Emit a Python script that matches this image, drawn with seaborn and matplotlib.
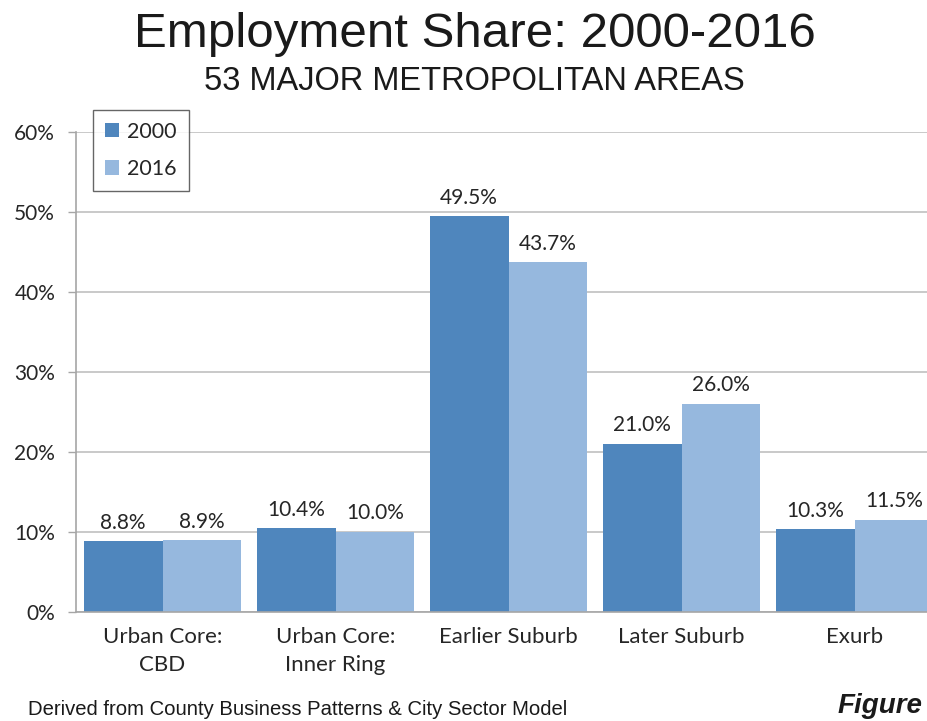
#Importations
import pandas as pd
import numpy as np
import seaborn as sns
import matplotlib.pyplot as plt

#Data
sectors = ['Urban Core:\nCBD', 'Urban Core:\nInner Ring', 'Earlier Suburb', 'Later Suburb', 'Exurb']
years = ['2000', '2016']
share_2000 = [8.8, 10.4, 49.5, 21.0, 10.3]
share_2016 = [8.9, 10.0, 43.7, 26.0, 11.5]
y_ticks = [0, 10, 20, 30, 40, 50, 60]
y_tick_labels = ['0%', '10%', '20%', '30%', '40%', '50%', '60%']

#Fonts
body = 'Lato'
head = 'Liberation Sans'

sns.set_style('white')
plt.rcParams['font.family'] = [body, 'DejaVu Sans']

df = pd.DataFrame({
    'sector': sectors * 2,
    'year': [years[0]] * len(sectors) + [years[1]] * len(sectors),
    'share': share_2000 + share_2016,
})

fig = plt.figure(figsize=(9.28, 7.21), dpi=100)
ax = fig.add_axes([76 / 928, (721 - 611.5) / 721, 865 / 928, 479.5 / 721])

sns.barplot(data=df, x='sector', y='share', hue='year', palette=['#4F86BD', '#96B8DE'],
            saturation=1, width=0.91, gap=0, linewidth=0, ax=ax)

# value labels
for cont, vals in zip(ax.containers, [share_2000, share_2016]):
    ax.bar_label(cont, labels=[f'{v:.1f}%' for v in vals], padding=6,
                 fontsize=15, color='#262626', family=body)

# axes styling
ax.set_ylim(0, 60)
ax.set_xlim(-0.5, len(sectors) - 0.5)
ax.set_yticks(y_ticks)
ax.set_yticklabels(y_tick_labels, fontsize=15, color='#262626')
ax.set_xlabel('')
ax.set_ylabel('')
ax.tick_params(axis='x', length=0, pad=11, labelsize=16, labelcolor='#262626')
for t in ax.get_xticklabels():
    t.set_linespacing(1.5)
ax.set_xticks(np.arange(-0.5, len(sectors), 1), minor=True)
ax.tick_params(axis='x', which='minor', length=5.5, width=1, color='#A6A6A6', direction='out')
ax.tick_params(axis='y', length=6, width=1, color='#A6A6A6', direction='out', pad=9, left=True)
ax.yaxis.grid(True, color='#C0C0C0', linewidth=1.2)
ax.set_axisbelow(True)
sns.despine(ax=ax, top=True, right=True)
for side in ['left', 'bottom']:
    ax.spines[side].set_color('#A6A6A6')
    ax.spines[side].set_linewidth(1.2)

# legend
handles, labels = ax.get_legend_handles_labels()
if ax.get_legend() is not None:
    ax.get_legend().remove()
leg = fig.legend(handles, labels, loc='upper left', bbox_to_anchor=(93 / 928, 1 - 110 / 721),
                 borderaxespad=0, frameon=True, fancybox=False, fontsize=15.5,
                 handlelength=0.65, handleheight=0.65, handletextpad=0.4,
                 labelspacing=0.8, borderpad=0.55)
leg.get_frame().set_edgecolor('#404040')
leg.get_frame().set_linewidth(1)
for t in leg.get_texts():
    t.set_color('#262626')

# titles and footer
fig.text(0.512, 1 - 47 / 721, 'Employment Share: 2000-2016', ha='center', va='baseline',
         fontsize=35.5, color='#1a1a1a', family=head)
fig.text(0.511, 1 - 90 / 721, '53 MAJOR METROPOLITAN AREAS', ha='center', va='baseline',
         fontsize=23.5, color='#1a1a1a', family=head)
fig.text(28 / 928, 1 - 715 / 721, 'Derived from County Business Patterns & City Sector Model',
         ha='left', va='baseline', fontsize=14.6, color='#1a1a1a', family=head)
fig.text(922 / 928, 1 - 713 / 721, 'Figure', ha='right', va='baseline', fontsize=20,
         fontweight='bold', fontstyle='italic', color='#1a1a1a', family=head)

fig.savefig('out.png', dpi=100)
